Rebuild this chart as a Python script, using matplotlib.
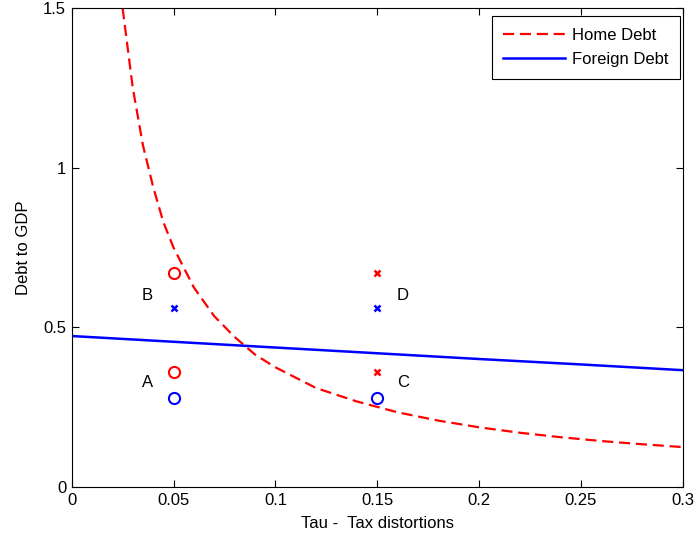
import matplotlib
matplotlib.use('Agg')
import matplotlib.pyplot as plt

plt.rcParams['font.family'] = ['Liberation Sans', 'DejaVu Sans']

# curves
tau = [0.025, 0.03, 0.035, 0.04, 0.045, 0.05, 0.06, 0.07, 0.08, 0.09, 0.10,
       0.12, 0.14, 0.16, 0.18, 0.20, 0.22, 0.24, 0.26, 0.28, 0.30]
home_debt = [1.50, 1.25, 1.07, 0.94, 0.83, 0.75, 0.625, 0.535, 0.47, 0.415, 0.375,
             0.31, 0.268, 0.234, 0.208, 0.187, 0.17, 0.156, 0.144, 0.134, 0.125]
tau_f = [0.0, 0.05, 0.10, 0.15, 0.20, 0.25, 0.30]
foreign_debt = [0.473, 0.455, 0.437, 0.419, 0.401, 0.384, 0.366]

# scenario points
pts_tau = [0.05, 0.15]
red_low, blue_low = 0.36, 0.28
red_high, blue_high = 0.67, 0.56
labels = ['A', 'B', 'C', 'D']
label_x = [0.0373, 0.0373, 0.1625, 0.1625]
label_y = [0.326, 0.60, 0.326, 0.60]

fs = 12

fig = plt.figure(figsize=(6.96, 5.41), dpi=100)
ax = fig.add_axes([0.103, 0.0998, 0.878, 0.885])

ax.plot(tau, home_debt, color='red', linestyle=(0, (5, 2.6)), linewidth=1.6, label='Home Debt')
ax.plot(tau_f, foreign_debt, color='blue', linewidth=1.8, label='Foreign Debt')

ms = 8
# A / C bottom
ax.plot(pts_tau[0], red_low, 'o', mfc='none', mec='red', mew=1.5, ms=ms)
ax.plot(pts_tau[0], blue_low, 'o', mfc='none', mec='blue', mew=1.5, ms=ms)
ax.plot(pts_tau[1], red_low, 'x', color='red', mew=1.8, ms=5)
ax.plot(pts_tau[1], blue_low, 'o', mfc='none', mec='blue', mew=1.5, ms=ms)
# B / D top
ax.plot(pts_tau[0], red_high, 'o', mfc='none', mec='red', mew=1.5, ms=ms)
ax.plot(pts_tau[0], blue_high, 'x', color='blue', mew=1.8, ms=5)
ax.plot(pts_tau[1], red_high, 'x', color='red', mew=1.8, ms=5)
ax.plot(pts_tau[1], blue_high, 'x', color='blue', mew=1.8, ms=5)

for lab, x, y in zip(labels, label_x, label_y):
    ax.text(x, y, lab, fontsize=fs, ha='center', va='center')

ax.set_xlim(0, 0.3)
ax.set_ylim(0, 1.5)
ax.set_xticks([0, 0.05, 0.1, 0.15, 0.2, 0.25, 0.3])
ax.set_xticklabels(['0', '0.05', '0.1', '0.15', '0.2', '0.25', '0.3'])
ax.set_yticks([0, 0.5, 1, 1.5])
ax.set_yticklabels(['0', '0.5', '1', '1.5'])
ax.tick_params(direction='in', top=True, right=True, length=5, labelsize=fs, pad=4)
for s in ax.spines.values():
    s.set_linewidth(0.8)
ax.set_xlabel('Tau -  Tax distortions', fontsize=fs, labelpad=6)
ax.set_ylabel('Debt to GDP', fontsize=fs, labelpad=9)

leg = ax.legend(loc='upper right', bbox_to_anchor=(0.995, 0.983), borderaxespad=0,
                fontsize=fs, handlelength=3.7, handletextpad=0.4,
                labelspacing=0.55, borderpad=0.7, fancybox=False,
                framealpha=1, edgecolor='black')
leg.get_frame().set_linewidth(0.8)

fig.savefig('out.png', dpi=100)
